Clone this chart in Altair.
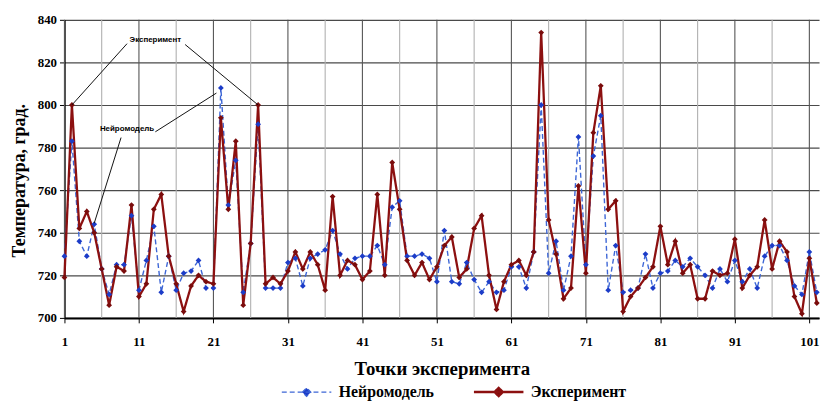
import altair as alt
import pandas as pd

# ---------------- data ----------------
points = list(range(1, 103))

neuro = [729, 783, 736, 729, 744, 723, 711, 725, 725, 748,
         713, 727, 743, 712, 729, 713, 721, 722, 727, 714,
         714, 808, 753, 774, 712, 735, 791, 714, 714, 714,
         726, 728, 715, 728, 730, 732, 741, 730, 723, 728,
         729, 729, 734, 725, 752, 755, 729, 729, 730, 728,
         717, 741, 717, 716, 726, 718, 712, 717, 712, 713,
         724, 724, 714, 731, 800, 721, 736, 713, 729, 785,
         725, 776, 795, 713, 734, 712, 713, 714, 730, 714,
         721, 722, 727, 724, 728, 724, 720, 714, 723, 717,
         727, 717, 723, 714, 729, 734, 734, 727, 715, 711,
         731, 712]

experiment = [719, 800, 742, 750, 740, 723, 706, 724, 722, 753,
              710, 716, 751, 758, 729, 716, 703, 715, 720, 717,
              716, 794, 751, 783, 706, 735, 800, 716, 719, 716,
              722, 731, 723, 731, 725, 713, 757, 720, 727, 725,
              718, 722, 758, 720, 773, 751, 727, 720, 726, 718,
              724, 734, 738, 719, 723, 742, 748, 720, 704, 717,
              725, 727, 720, 731, 834, 746, 730, 709, 714, 762,
              721, 787, 809, 751, 755, 703, 710, 714, 719, 724,
              743, 725, 736, 721, 725, 709, 709, 722, 720, 721,
              737, 714, 720, 724, 746, 723, 736, 731, 710, 702,
              728, 707]

series_names = ["Нейромодель", "Эксперимент"]
x_ticks = [1, 11, 21, 31, 41, 51, 61, 71, 81, 91, 101]
grid_minor = [6, 16, 26, 36, 46, 56, 66, 76, 86, 96]
y_ticks = [700, 720, 740, 760, 780, 800, 820, 840]

# annotation callouts (data coordinates)
ann_text = ["Эксперимент", "Нейромодель"]
ann_text_x = [13.2, 9.4]
ann_text_y = [830.7, 788.8]
ann_x1 = [9.4, 17.2, 13.2, 8.6]
ann_y1 = [828.8, 828.4, 787.4, 784.7]
ann_x2 = [2, 27, 21.4, 5]
ann_y2 = [800, 800, 805.6, 744.5]

# ---------------- tables ----------------
rows = []
for name, vals in zip(series_names, [neuro, experiment]):
    for p, v in zip(points, vals):
        rows.append({"point": p, "value": v, "series": name})
df = pd.DataFrame(rows)

major_df = pd.DataFrame({"gx": x_ticks})
minor_df = pd.DataFrame({"gx": grid_minor})
ann_lines = pd.DataFrame({"x1": ann_x1, "y1": ann_y1, "x2": ann_x2, "y2": ann_y2})
ann_labels = pd.DataFrame({"t": ann_text, "x": ann_text_x, "y": ann_text_y})

SERIF = "Liberation Serif"
BLUE_LINE = "#3d66d6"
BLUE_PT = "#1c3cc8"
RED_LINE = "#8c1010"
RED_PT = "#7a0c0c"

xscale = alt.Scale(domain=[1, 102.3], nice=False, zero=False)
yscale = alt.Scale(domain=[700, 840], nice=False, zero=False)

x_axis = alt.Axis(
    values=x_ticks,
    grid=False,
    title="Точки эксперимента",
    labelFlush=False,
    domainColor="black",
    domainWidth=2,
    tickColor="black",
    tickSize=5,
    labelPadding=13,
    titleY=51,
    titleBaseline="middle",
    titleFontSize=19,
)

y_axis = alt.Axis(
    values=y_ticks,
    grid=True,
    gridColor="#4a4a4a",
    gridWidth=1.2,
    title="Температура, град.",
    domainColor="black",
    domainWidth=1.5,
    tickColor="black",
    tickSize=5,
    labelPadding=3,
    titleX=-45,
    titleY=162,
    titleAlign="center",
    titleBaseline="middle",
    titleFontSize=18,
)

legend = alt.Legend(
    title=None,
    orient="none",
    legendX=218,
    legendY=349,
    direction="horizontal",
    columns=2,
    symbolType="M-1,0L1,0M-0.17,0L0,-0.17L0.17,0L0,0.17Z",
    symbolSize=2500,
    symbolStrokeWidth=2,
    symbolOpacity=1,
    labelFont=SERIF,
    labelFontSize=16,
    labelFontWeight="bold",
    labelColor="black",
    labelOffset=6,
    columnPadding=34,
)

grid_min = alt.Chart(minor_df).mark_rule(color="#b0b0b0", strokeWidth=1.1).encode(
    x=alt.X("gx:Q", scale=xscale, axis=x_axis)
)
grid_major = alt.Chart(major_df).mark_rule(color="#555555", strokeWidth=1.1).encode(
    x=alt.X("gx:Q", scale=xscale, axis=x_axis)
)

lines = alt.Chart(df).mark_line().encode(
    x=alt.X("point:Q", scale=xscale, axis=x_axis),
    y=alt.Y("value:Q", scale=yscale, axis=y_axis),
    color=alt.Color(
        "series:N",
        scale=alt.Scale(domain=series_names, range=[BLUE_LINE, RED_LINE]),
        legend=legend,
    ),
    strokeDash=alt.StrokeDash(
        "series:N",
        scale=alt.Scale(domain=series_names, range=[[5, 3], [1, 0]]),
        legend=legend,
    ),
    strokeWidth=alt.StrokeWidth(
        "series:N",
        scale=alt.Scale(domain=series_names, range=[1.4, 2.3]),
        legend=None,
    ),
)

pts = alt.Chart(df).mark_point(filled=True, shape="diamond", opacity=1, size=34).encode(
    x=alt.X("point:Q", scale=xscale, axis=x_axis),
    y=alt.Y("value:Q", scale=yscale, axis=y_axis),
    fill=alt.Fill(
        "series:N",
        scale=alt.Scale(domain=series_names, range=[BLUE_PT, RED_PT]),
        legend=legend,
    ),
)

ann_rules = alt.Chart(ann_lines).mark_rule(color="#111111", strokeWidth=1).encode(
    x=alt.X("x1:Q", scale=xscale, axis=x_axis),
    y=alt.Y("y1:Q", scale=yscale, axis=y_axis),
    x2="x2:Q",
    y2="y2:Q",
)

ann_txt = alt.Chart(ann_labels).mark_text(
    font="Liberation Sans", fontSize=8, fontWeight="bold", color="black",
    align="center", baseline="middle",
).encode(
    x=alt.X("x:Q", scale=xscale, axis=x_axis),
    y=alt.Y("y:Q", scale=yscale, axis=y_axis),
    text="t:N",
)

chart = (
    alt.layer(grid_min, grid_major, lines, pts, ann_rules, ann_txt)
    .properties(
        width=762,
        height=301,
        autosize=alt.AutoSizeParams(type="none"),
        padding={"left": 57, "top": 10, "right": 4, "bottom": 86},
        background="white",
    )
    .configure_view(stroke=None)
    .configure_axis(
        labelFont=SERIF,
        labelFontWeight="bold",
        labelFontSize=13,
        labelColor="black",
        titleFont=SERIF,
        titleFontWeight="bold",
        titleColor="black",
    )
)

chart.save("out.html", embed_options={"renderer": "svg", "actions": False})
